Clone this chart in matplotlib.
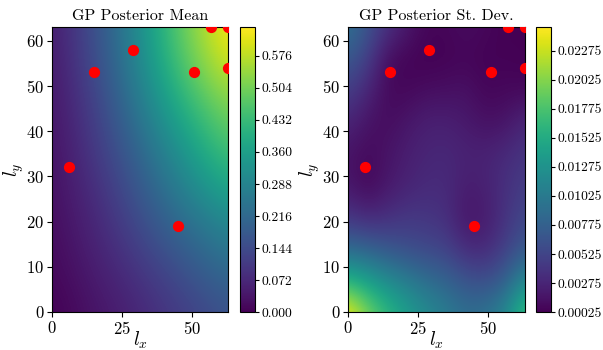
import numpy as np
import matplotlib.pyplot as plt

plt.rcParams['font.family'] = 'serif'
plt.rcParams['font.serif'] = ['cmr10']
plt.rcParams['mathtext.fontset'] = 'cm'
plt.rcParams['axes.formatter.use_mathtext'] = True

# observed sample locations (red dots)
obs_x = [6, 15, 29, 45, 51, 57, 63, 63]
obs_y = [32, 53, 58, 19, 53, 63, 63, 54]

# posterior mean read on a coarse grid, x/y = 0, 9, ..., 63 (rows: y from bottom)
mean_grid_step = 9
mean_vals = [
    [0.000, 0.019, 0.038, 0.058, 0.083, 0.109, 0.134, 0.160],
    [0.013, 0.032, 0.058, 0.083, 0.115, 0.147, 0.186, 0.218],
    [0.019, 0.045, 0.077, 0.115, 0.160, 0.205, 0.243, 0.282],
    [0.026, 0.058, 0.096, 0.147, 0.205, 0.262, 0.320, 0.371],
    [0.032, 0.070, 0.122, 0.179, 0.250, 0.320, 0.390, 0.448],
    [0.038, 0.083, 0.141, 0.218, 0.301, 0.384, 0.454, 0.512],
    [0.045, 0.096, 0.166, 0.250, 0.346, 0.442, 0.525, 0.582],
    [0.051, 0.109, 0.179, 0.269, 0.371, 0.474, 0.557, 0.641],
]
mean_ticks = [0.000, 0.072, 0.144, 0.216, 0.288, 0.360, 0.432, 0.504, 0.576]

# posterior st. dev. (x1e-3) on grid x/y = 0, 7, ..., 63
std_grid_step = 7
std_vals_milli = [
    [24.8, 20.0, 16.5, 14.0, 12.0, 10.5, 9.0, 9.5, 11.5, 17.5],
    [16.0, 14.0, 12.0, 10.5, 9.0, 8.0, 6.5, 6.0, 7.5, 12.0],
    [8.5, 7.8, 6.8, 6.0, 5.5, 5.0, 3.2, 3.0, 4.8, 7.0],
    [4.0, 3.0, 3.5, 4.2, 4.0, 3.6, 1.5, 2.0, 3.8, 5.5],
    [1.8, 0.6, 1.8, 2.6, 3.2, 3.2, 2.2, 2.5, 3.6, 4.6],
    [1.5, 0.8, 1.5, 2.3, 2.8, 3.0, 2.6, 2.6, 3.2, 4.0],
    [2.8, 1.5, 1.0, 1.7, 2.4, 2.4, 1.9, 1.3, 1.5, 3.0],
    [4.8, 2.8, 0.8, 0.7, 1.1, 1.2, 1.4, 0.6, 0.8, 0.7],
    [7.0, 4.8, 0.9, 0.5, 0.25, 0.4, 0.6, 0.35, 0.4, 0.3],
    [9.5, 6.5, 3.8, 1.8, 0.6, 0.6, 1.0, 0.7, 0.3, 0.3],
]
std_ticks = [0.00025, 0.00275, 0.00525, 0.00775, 0.01025,
             0.01275, 0.01525, 0.01775, 0.02025, 0.02275]

mean = np.array(mean_vals)
std = np.array(std_vals_milli) * 1e-3

fig = plt.figure(figsize=(6.03, 3.5), dpi=100)
ax1 = fig.add_axes([52/603, 38/350, 176/603, 285/350])
cax1 = fig.add_axes([240/603, 38/350, 15/603, 285/350])
ax2 = fig.add_axes([348/603, 38/350, 177/603, 285/350])
cax2 = fig.add_axes([536/603, 38/350, 15/603, 285/350])

panels = [
    (ax1, cax1, mean, mean_grid_step, mean_ticks, '%.3f', 'GP Posterior Mean', 0.0, 0.641),
    (ax2, cax2, std, std_grid_step, std_ticks, '%.5f', 'GP Posterior St. Dev.', 0.00025, 0.0248),
]

for ax, cax, field, step, ticks, fmt, title, vmin, vmax in panels:
    h = step / 2
    n = field.shape[0]
    im = ax.imshow(field, origin='lower', cmap='viridis', interpolation='bicubic',
                   extent=[-h, (n - 1) * step + h, -h, (n - 1) * step + h],
                   aspect='auto', vmin=vmin, vmax=vmax)
    ax.scatter(obs_x, obs_y, s=50, c='red', zorder=3)
    ax.set_xlim(0, 63)
    ax.set_ylim(0, 63)
    ax.set_xticks([0, 25, 50])
    ax.set_yticks(np.arange(0, 61, 10))
    ax.tick_params(labelsize=12, pad=2)
    ax.set_xlabel('$l_x$', fontsize=14, labelpad=-5)
    ax.set_ylabel('$l_y$', fontsize=14, labelpad=0)
    ax.set_title(title, fontsize=11.5, pad=5)
    cb = fig.colorbar(im, cax=cax, ticks=ticks, format=fmt)
    cb.ax.tick_params(labelsize=9.8, length=3, pad=1.5)

plt.savefig('out.png', dpi=100)
